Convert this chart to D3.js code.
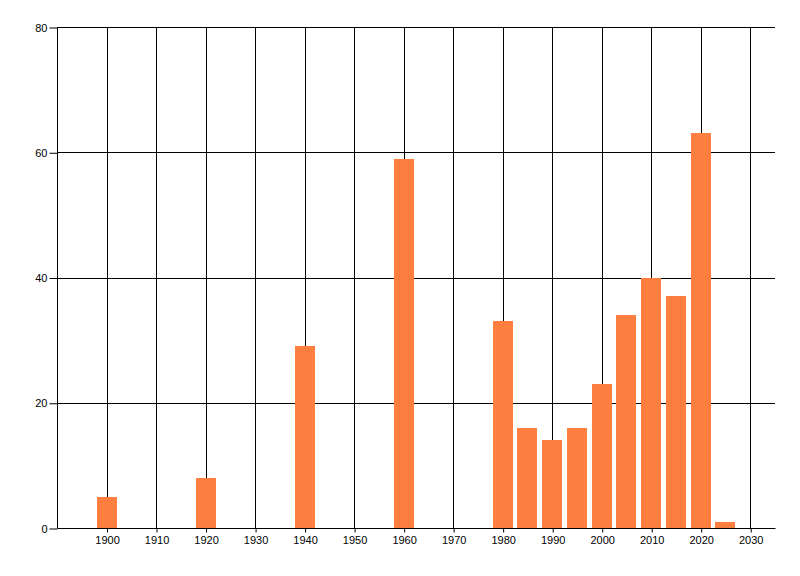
<!DOCTYPE html>
<html>
<head>
<meta charset="utf-8">
<script src="https://cdn.jsdelivr.net/npm/d3@7"></script>
<style>
  body { margin: 0; background: #fff; }
  text { font-family: "Liberation Sans", Arial, sans-serif; font-size: 11px; fill: #000; }
</style>
</head>
<body>
<div id="chart"></div>
<script>
// data
const years = [1900, 1920, 1940, 1960, 1980, 1985, 1990, 1995, 2000, 2005, 2010, 2015, 2020, 2025];
const counts = [5, 8, 29, 59, 33, 16, 14, 16, 23, 34, 40, 37, 63, 1];
const xTicks = [1900, 1910, 1920, 1930, 1940, 1950, 1960, 1970, 1980, 1990, 2000, 2010, 2020, 2030];
const yTicks = [0, 20, 40, 60, 80];

const width = 800, height = 576;
const plot = {left: 57, right: 775, top: 27, bottom: 528};

const svg = d3.select("#chart")
    .append("svg")
    .attr("width", width)
    .attr("height", height);

const x = d3.scaleLinear()
    .domain([1890, 2035])
    .range([plot.left, plot.right]);

const y = d3.scaleLinear()
    .domain([0, 80])
    .range([plot.bottom, plot.top]);

// vertical grid lines at each decade
svg.append("g")
    .selectAll("line")
    .data(xTicks)
    .enter()
    .append("line")
        .attr("x1", d => Math.round(x(d)) + 0.5)
        .attr("x2", d => Math.round(x(d)) + 0.5)
        .attr("y1", plot.top)
        .attr("y2", plot.bottom)
        .attr("stroke", "#000");

// horizontal grid lines
svg.append("g")
    .selectAll("line")
    .data(yTicks.filter(d => d > 0))
    .enter()
    .append("line")
        .attr("x1", plot.left)
        .attr("x2", plot.right)
        .attr("y1", d => Math.round(y(d)) + 0.5)
        .attr("y2", d => Math.round(y(d)) + 0.5)
        .attr("stroke", "#000");

// bars
const barW = 20;
svg.append("g")
    .selectAll("rect")
    .data(years)
    .enter()
    .append("rect")
        .attr("x", d => Math.round(x(d) - barW / 2))
        .attr("width", barW)
        .attr("y", (d, i) => Math.round(y(counts[i])))
        .attr("height", (d, i) => Math.round(y(0)) - Math.round(y(counts[i])))
        .attr("fill", "#ff7f41");

// y axis
const yAxis = svg.append("g")
    .attr("transform", `translate(${plot.left + 0.5}, 0.5)`)
    .call(d3.axisLeft(y).tickValues(yTicks).tickSize(8).tickPadding(2).tickFormat(d3.format("d")));
yAxis.select(".domain").attr("d", `M0,${plot.top}V${plot.bottom}`);
yAxis.selectAll("text").style("font-family", "Liberation Sans").style("font-size", "11px");

// x axis
const xAxis = svg.append("g")
    .attr("transform", `translate(0.5, ${plot.bottom + 0.5})`)
    .call(d3.axisBottom(x).tickValues(xTicks).tickSize(4).tickPadding(4).tickFormat(d3.format("d")));
xAxis.select(".domain").attr("d", `M${plot.left},0H${plot.right}`);
xAxis.selectAll("text").style("font-family", "Liberation Sans").style("font-size", "11px");
</script>
</body>
</html>
